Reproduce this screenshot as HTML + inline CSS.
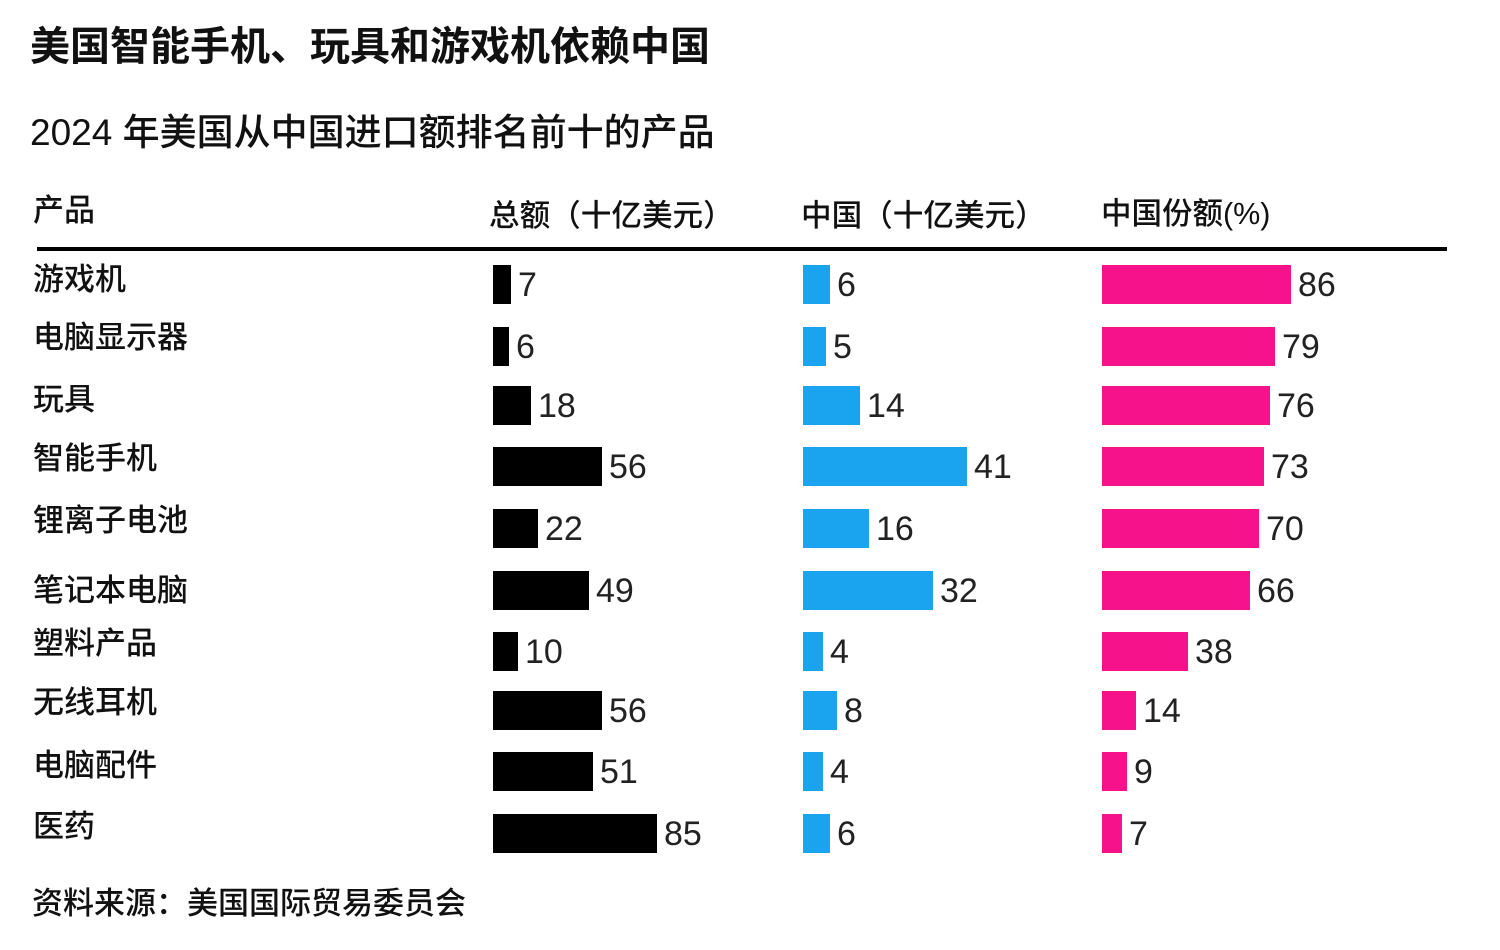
<!DOCTYPE html>
<html><head><meta charset="utf-8">
<style>
body{margin:0;width:1500px;height:950px;background:#fff;position:relative;overflow:hidden;font-family:"Liberation Sans","Noto Sans CJK SC",sans-serif;color:#111;}
.t{position:absolute;white-space:nowrap;line-height:1;}
.b{position:absolute;height:39px;}
.v{position:absolute;font-size:34px;line-height:39px;color:#222;}
</style></head><body>
<div class="t" style="left:30px;top:27px;font-size:40px;font-weight:bold;">美国智能手机、玩具和游戏机依赖中国</div>
<div class="t" style="left:30px;top:114px;font-size:37px;font-weight:500;">2024 年美国从中国进口额排名前十的产品</div>
<div class="t" style="left:33px;top:195px;font-size:31px;font-weight:500;">产品</div>
<div class="t" style="left:489px;top:201px;font-size:30.6px;font-weight:500;">总额（十亿美元）</div>
<div class="t" style="left:801px;top:201px;font-size:30.6px;font-weight:500;">中国（十亿美元）</div>
<div class="t" style="left:1101px;top:199px;font-size:30.5px;font-weight:500;">中国份额(%)</div>
<div style="position:absolute;left:37px;top:247px;width:1410px;height:4px;background:#000;"></div>
<div class="t" style="left:32px;top:888px;font-size:31px;font-weight:500;">资料来源：美国国际贸易委员会</div>
<div id="rows"></div>
<script>
var d=[["游戏机",265,280,7,18,6,27,86,189],["电脑显示器",327,338,6,16,5,23,79,173],["玩具",386,400,18,38,14,57,76,168],["智能手机",447,459,56,109,41,164,73,162],["锂离子电池",509,521,22,45,16,66,70,157],["笔记本电脑",571,591,49,96,32,130,66,148],["塑料产品",632,644,10,25,4,20,38,86],["无线耳机",691,703,56,109,8,34,14,34],["电脑配件",752,766,51,100,4,20,9,25],["医药",814,827,85,164,6,27,7,20]];
var h="";
d.forEach(function(r){
h+='<div class="t" style="left:33px;top:'+(r[2]-16)+'px;font-size:31px;font-weight:500;">'+r[0]+'</div>';
[[493,"#000",r[3],r[4]],[803,"#1aa3ef",r[5],r[6]],[1102,"#f5128a",r[7],r[8]]].forEach(function(c){
h+='<div class="b" style="left:'+c[0]+'px;top:'+r[1]+'px;width:'+c[3]+'px;background:'+c[1]+';"></div>';
h+='<div class="v" style="left:'+(c[0]+c[3]+7)+'px;top:'+(r[1]+1)+'px;">'+c[2]+'</div>';
});
});
document.getElementById("rows").innerHTML=h;
</script>
</body></html>
